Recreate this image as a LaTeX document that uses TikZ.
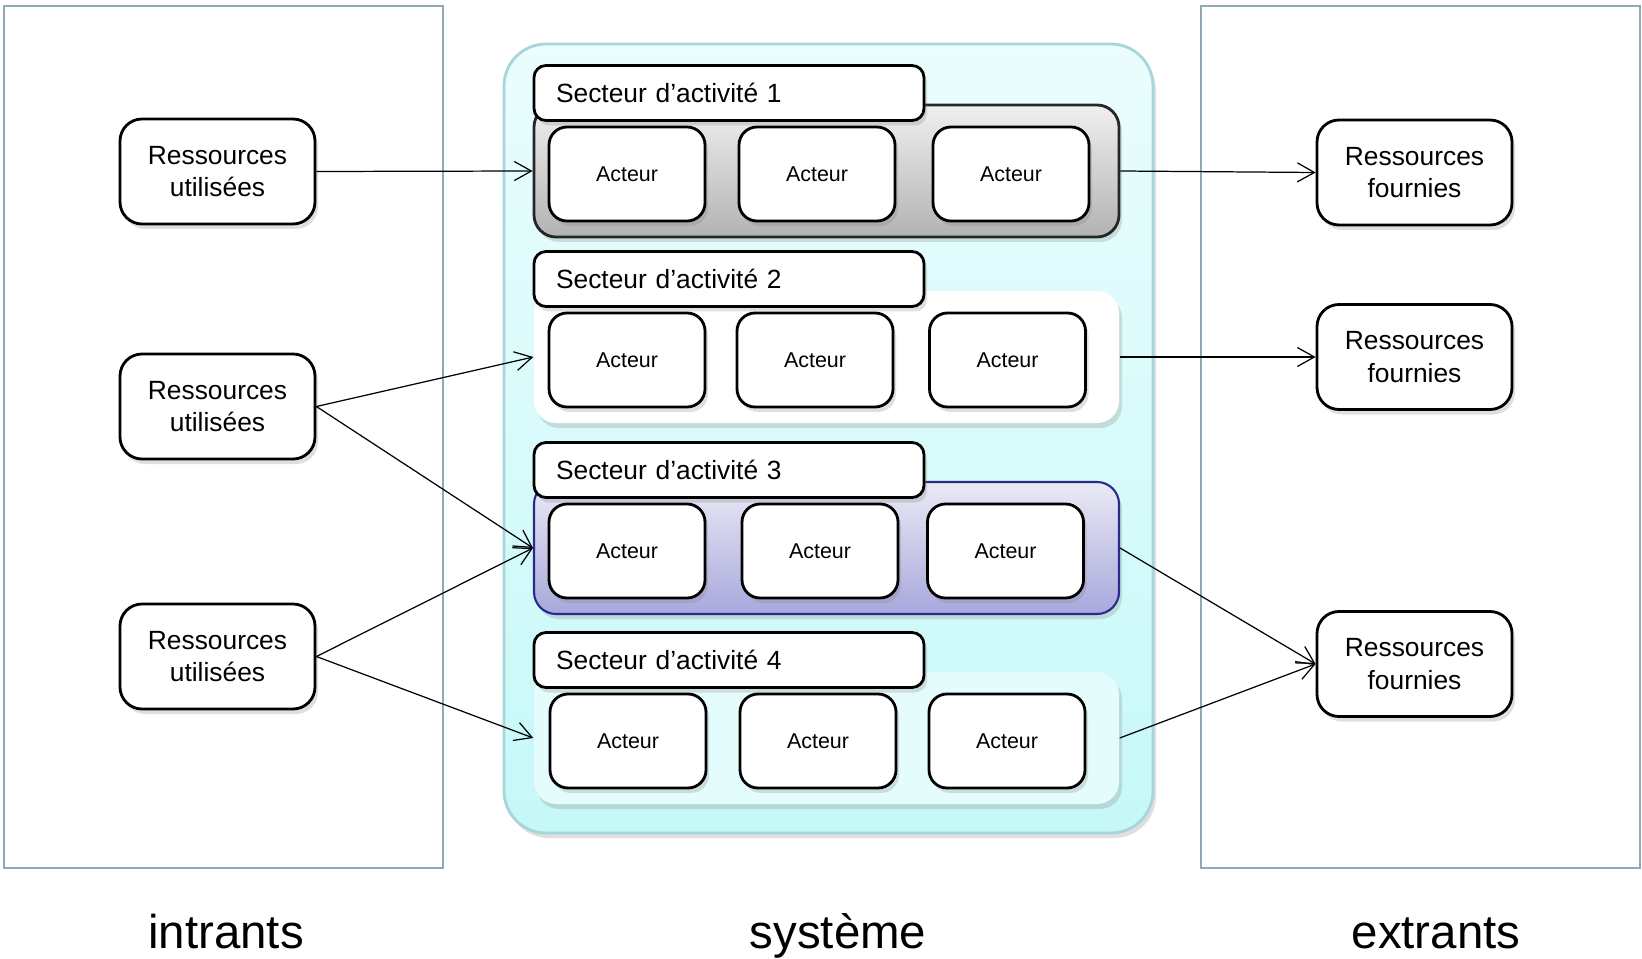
\documentclass[tikz,border=0pt]{standalone}
\usepackage{fontspec}
\setmainfont{Liberation Sans}
\usetikzlibrary{
    arrows.meta,
    positioning,
    shadows
}
\definecolor{frameLine}{HTML}{8FAAB2}
\definecolor{systemTop}{HTML}{EBFDFD}
\definecolor{systemBottom}{HTML}{C6F8F8}
\definecolor{systemLine}{HTML}{A6D6DA}
\definecolor{purpleTop}{HTML}{EAEAF5}
\definecolor{purpleBottom}{HTML}{A8A8DC}
\definecolor{purpleLine}{HTML}{2A2A8C}
\definecolor{lightCyan}{HTML}{E4FCFC}
\tikzset{
    >={Straight Barb[length=1.7mm,width=1.9mm]},
    softShadow/.style={
        drop shadow={opacity=0.25, shadow xshift=0.3mm, shadow yshift=-0.5mm}
    },
    % Outer frames
    frame/.style={
        draw=frameLine,
        line width=0.5pt,
        minimum width=43.9mm,
        minimum height=86.2mm
    },
    system/.style={
        draw=systemLine,
        line width=0.8pt,
        top color=systemTop,
        bottom color=systemBottom,
        rounded corners=4.2mm,
        minimum width=64.9mm,
        minimum height=78.9mm,
        softShadow
    },
    % Resources in and out
    resource/.style={
        draw=black,
        line width=0.8pt,
        fill=white,
        rounded corners=2.2mm,
        minimum width=19.5mm,
        minimum height=10.5mm,
        align=center,
        font=\fontsize{7.5}{9.2}\selectfont,
        softShadow
    },
    % Sectors
    sector/.style={
        rounded corners=2.2mm,
        minimum width=58.5mm,
        minimum height=13.2mm,
        softShadow
    },
    sectorGray/.style={
        sector,
        draw=black!85,
        line width=0.8pt,
        top color=black!6,
        bottom color=black!30
    },
    sectorWhite/.style={
        sector,
        fill=white
    },
    sectorPurple/.style={
        sector,
        draw=purpleLine,
        line width=0.6pt,
        top color=purpleTop,
        bottom color=purpleBottom
    },
    sectorLight/.style={
        sector,
        fill=lightCyan
    },
    sectorName/.style={
        draw=black,
        line width=0.8pt,
        fill=white,
        rounded corners=1.2mm,
        minimum height=5.5mm,
        inner xsep=2.2mm,
        text width=34.6mm,
        align=left,
        font=\fontsize{7.5}{9}\selectfont,
        softShadow
    },
    actor/.style={
        draw=black,
        line width=0.8pt,
        fill=white,
        rounded corners=1.8mm,
        minimum width=15.6mm,
        minimum height=9.4mm,
        font=\fontsize{6.1}{7}\selectfont,
        softShadow
    },
    bigLabel/.style={
        anchor=base,
        font=\fontsize{13.5}{16}\selectfont
    },
    link/.style={
        ->,
        line width=0.35pt
    }
}

\begin{document}
\begin{tikzpicture}[x=0.1mm, y=-0.1mm]
    \useasboundingbox (0,0) rectangle (1642,958);

    \node[frame] (inFrame) at (223.5,437) {};
    \node[frame] (outFrame) at (1420.5,437) {};
    \node[system] (systemBox) at (828.5,438.5) {};

    \foreach \i/\y/\kind/\xa/\xb/\xc in {
        1/171/sectorGray/627/817/1011,
        2/357/sectorWhite/627/815/1007.5,
        3/548/sectorPurple/627/820/1005.5,
        4/738/sectorLight/628/818/1007} {
        \node[\kind] (sec\i) at (826.5,\y) {};
        \node[sectorName] (secName\i) at (729,\y-78) {Secteur d’activité \i};
        \node[actor] (act\i-1) at (\xa,\y+3) {Acteur};
        \node[actor] (act\i-2) at (\xb,\y+3) {Acteur};
        \node[actor] (act\i-3) at (\xc,\y+3) {Acteur};
    }

    \node[resource] (used1) at (217.5,171.5) {Ressources\\utilisées};
    \node[resource] (used2) at (217.5,406.5) {Ressources\\utilisées};
    \node[resource] (used3) at (217.5,656.5) {Ressources\\utilisées};

    \node[resource] (given1) at (1414.5,172.5) {Ressources\\fournies};
    \node[resource] (given2) at (1414.5,357) {Ressources\\fournies};
    \node[resource] (given3) at (1414.5,664) {Ressources\\fournies};

    \node[bigLabel] (inLabel) at (226,948) {intrants};
    \node[bigLabel] (systemLabel) at (838,948) {système};
    \node[bigLabel] (outLabel) at (1436,948) {extrants};

    \draw[link] (used1.east) -- (sec1.west);
    \draw[link] (used2.east) -- (sec2.west);
    \draw[link] (used2.east) -- (sec3.west);
    \draw[link] (used3.east) -- (sec3.west);
    \draw[link] (used3.east) -- (sec4.west);

    \draw[link] (sec1.east) -- (given1.west);
    \draw[link] (sec2.east) -- (given2.west);
    \draw[link] (sec3.east) -- (given3.west);
    \draw[link] (sec4.east) -- (given3.west);

\end{tikzpicture}
\end{document}
